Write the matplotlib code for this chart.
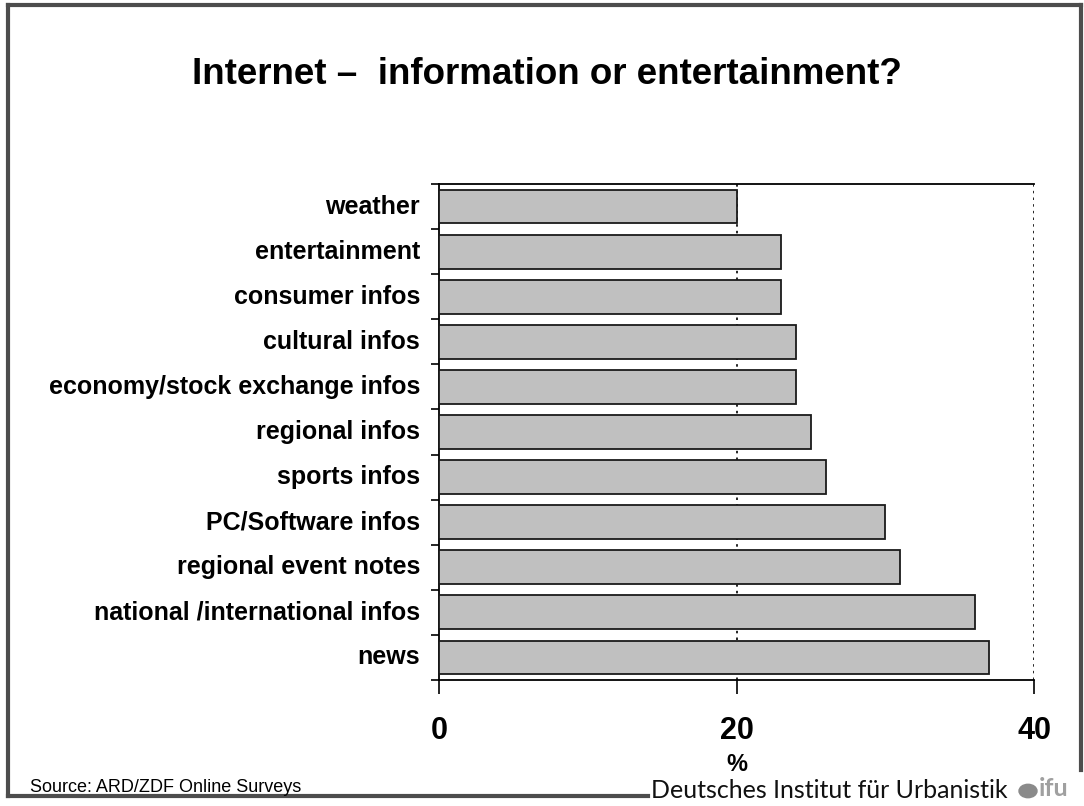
import matplotlib
matplotlib.use("Agg")
import matplotlib.pyplot as plt
from matplotlib.lines import Line2D
from matplotlib.patches import Circle

categories = [
    "weather", "entertainment", "consumer infos", "cultural infos",
    "economy/stock exchange infos", "regional infos", "sports infos",
    "PC/Software infos", "regional event notes",
    "national /international infos", "news",
]
values = [20, 23, 23, 24, 24, 25, 26, 30, 31, 36, 37]
xticks = [0, 20, 40]

title = "Internet \u2013  information or entertainment?"
source = "Source: ARD/ZDF Online Surveys"
institute = "Deutsches Institut f\u00fcr Urbanistik"

W, H = 1084, 806
fig = plt.figure(figsize=(W / 100, H / 100), dpi=100)
fig.patch.set_facecolor("white")

ax = fig.add_axes([439 / W, 126 / H, 595 / W, 496 / H])
ypos = list(range(len(categories)))
ax.barh(ypos, values, height=0.75, color="#c0c0c0",
        edgecolor="#1a1a1a", linewidth=1.3, zorder=3)
ax.set_xlim(0, 40)
ax.set_ylim(len(categories) - 0.5, -0.5)

# category labels as text, ticks at the row boundaries
ax.set_yticks([i - 0.5 for i in range(len(categories) + 1)])
ax.set_yticklabels([])
ax.tick_params(axis="y", direction="out", length=6, width=1.2, color="black")
for i, c in enumerate(categories):
    ax.text(-0.032, i, c, transform=ax.get_yaxis_transform(),
            ha="right", va="center", fontsize=18, fontweight="bold",
            family=["Liberation Sans", "DejaVu Sans"])

ax.set_xticks(xticks)
ax.set_xticklabels([str(t) for t in xticks], fontsize=22, fontweight="bold",
                   family=["Liberation Sans Narrow", "Liberation Sans"])
ax.tick_params(axis="x", direction="out", length=10, width=1.2, pad=16)
ax.set_xlabel("%", fontsize=17, fontweight="bold",
              family=["Liberation Sans Narrow", "Liberation Sans"], labelpad=5)

for g in xticks[1:]:
    ax.axvline(g, color="black", linestyle=(0, (1.5, 2.5)), linewidth=1.2, zorder=1)

for s in ["left", "bottom", "top"]:
    ax.spines[s].set_linewidth(1.3)
    ax.spines[s].set_color("black")
ax.spines["right"].set_visible(False)

fig.text(547 / W, 1 - 75 / H, title, ha="center", va="center",
         fontsize=26.5, fontweight="bold", family=["Liberation Sans", "DejaVu Sans"])

fig.text(30 / W, 1 - 788 / H, source, ha="left", va="center",
         fontsize=13, family=["Liberation Sans", "DejaVu Sans"])

fig.text(651 / W, 1 - 791 / H, institute, ha="left", va="center",
         fontsize=18, family=["Lato", "DejaVu Sans"], color="#111111")

# slide frame
fc = "#4d4d4d"
fw = 3
fig.add_artist(Line2D([8 / W, 1081 / W], [1 - 5 / H, 1 - 5 / H], color=fc, lw=fw))
fig.add_artist(Line2D([8 / W, 8 / W], [1 - 5 / H, 1 - 796 / H], color=fc, lw=fw))
fig.add_artist(Line2D([8 / W, 648 / W], [1 - 796 / H, 1 - 796 / H], color=fc, lw=fw))
fig.add_artist(Line2D([1081 / W, 1081 / W], [1 - 5 / H, 1 - 770 / H], color=fc, lw=fw))

# institute logo
fig.add_artist(Circle((1028 / W, 1 - 791 / H), 9 / W, color="#8a8a8a",
                      transform=fig.transFigure))
fig.text(1039 / W, 1 - 789 / H, "ifu", ha="left", va="center", fontsize=18,
         fontweight="bold", color="#a0a0a0", family=["Lato", "DejaVu Sans"])

fig.savefig("out.png", dpi=100, facecolor="white")
